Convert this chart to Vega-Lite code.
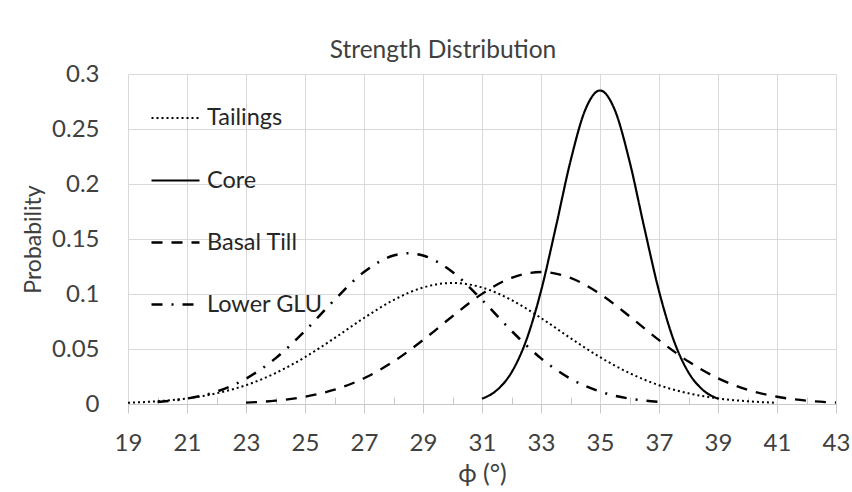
{
  "$schema": "https://vega.github.io/schema/vega-lite/v6.json",
  "width": 708,
  "height": 330,
  "autosize": {"type": "none"},
  "padding": {"left": 128, "top": 74, "right": 16, "bottom": 88},
  "background": "white",
  "title": {
    "text": "Strength Distribution",
    "font": "Lato",
    "fontSize": 24.5,
    "fontWeight": "normal",
    "color": "#404040",
    "anchor": "middle",
    "frame": "group",
    "dx": -39,
    "baseline": "alphabetic",
    "offset": -20
  },
  "config": {
    "view": {"stroke": null},
    "font": "Lato",
    "legend": {
      "orient": "none",
      "legendX": 22,
      "legendY": 19,
      "title": null,
      "symbolType": "stroke",
      "symbolSize": 2304,
      "symbolStrokeColor": "black",
      "labelFont": "Lato",
      "labelFontSize": 23.5,
      "labelColor": "#262626",
      "labelOffset": 6,
      "rowPadding": 25
    }
  },
  "data": {
    "values": [
      {"series": "Tailings", "phi": 19, "p": 0.0011},
      {"series": "Tailings", "phi": 20, "p": 0.0025},
      {"series": "Tailings", "phi": 21, "p": 0.0051},
      {"series": "Tailings", "phi": 22, "p": 0.0097},
      {"series": "Tailings", "phi": 23, "p": 0.0171},
      {"series": "Tailings", "phi": 24, "p": 0.0281},
      {"series": "Tailings", "phi": 25, "p": 0.0426},
      {"series": "Tailings", "phi": 26, "p": 0.0599},
      {"series": "Tailings", "phi": 27, "p": 0.0782},
      {"series": "Tailings", "phi": 28, "p": 0.0945},
      {"series": "Tailings", "phi": 29, "p": 0.1059},
      {"series": "Tailings", "phi": 30, "p": 0.11},
      {"series": "Tailings", "phi": 31, "p": 0.1059},
      {"series": "Tailings", "phi": 32, "p": 0.0945},
      {"series": "Tailings", "phi": 33, "p": 0.0782},
      {"series": "Tailings", "phi": 34, "p": 0.0599},
      {"series": "Tailings", "phi": 35, "p": 0.0426},
      {"series": "Tailings", "phi": 36, "p": 0.0281},
      {"series": "Tailings", "phi": 37, "p": 0.0171},
      {"series": "Tailings", "phi": 38, "p": 0.0097},
      {"series": "Tailings", "phi": 39, "p": 0.0051},
      {"series": "Tailings", "phi": 40, "p": 0.0025},
      {"series": "Tailings", "phi": 41, "p": 0.0011},
      {"series": "Core", "phi": 31, "p": 0.0048},
      {"series": "Core", "phi": 31.5, "p": 0.0125},
      {"series": "Core", "phi": 32, "p": 0.0287},
      {"series": "Core", "phi": 32.5, "p": 0.0579},
      {"series": "Core", "phi": 33, "p": 0.1027},
      {"series": "Core", "phi": 33.5, "p": 0.1605},
      {"series": "Core", "phi": 34, "p": 0.2208},
      {"series": "Core", "phi": 34.5, "p": 0.2674},
      {"series": "Core", "phi": 35, "p": 0.285},
      {"series": "Core", "phi": 35.5, "p": 0.2674},
      {"series": "Core", "phi": 36, "p": 0.2208},
      {"series": "Core", "phi": 36.5, "p": 0.1605},
      {"series": "Core", "phi": 37, "p": 0.1027},
      {"series": "Core", "phi": 37.5, "p": 0.0579},
      {"series": "Core", "phi": 38, "p": 0.0287},
      {"series": "Core", "phi": 38.5, "p": 0.0125},
      {"series": "Core", "phi": 39, "p": 0.0048},
      {"series": "Basal Till", "phi": 23, "p": 0.0013},
      {"series": "Basal Till", "phi": 24, "p": 0.003},
      {"series": "Basal Till", "phi": 25, "p": 0.0066},
      {"series": "Basal Till", "phi": 26, "p": 0.013},
      {"series": "Basal Till", "phi": 27, "p": 0.0234},
      {"series": "Basal Till", "phi": 28, "p": 0.0386},
      {"series": "Basal Till", "phi": 29, "p": 0.0581},
      {"series": "Basal Till", "phi": 30, "p": 0.0798},
      {"series": "Basal Till", "phi": 31, "p": 0.1001},
      {"series": "Basal Till", "phi": 32, "p": 0.1147},
      {"series": "Basal Till", "phi": 33, "p": 0.12},
      {"series": "Basal Till", "phi": 34, "p": 0.1147},
      {"series": "Basal Till", "phi": 35, "p": 0.1001},
      {"series": "Basal Till", "phi": 36, "p": 0.0798},
      {"series": "Basal Till", "phi": 37, "p": 0.0581},
      {"series": "Basal Till", "phi": 38, "p": 0.0386},
      {"series": "Basal Till", "phi": 39, "p": 0.0234},
      {"series": "Basal Till", "phi": 40, "p": 0.013},
      {"series": "Basal Till", "phi": 41, "p": 0.0066},
      {"series": "Basal Till", "phi": 42, "p": 0.003},
      {"series": "Basal Till", "phi": 43, "p": 0.0013},
      {"series": "Lower GLU", "phi": 20, "p": 0.0019},
      {"series": "Lower GLU", "phi": 21, "p": 0.0049},
      {"series": "Lower GLU", "phi": 22, "p": 0.0113},
      {"series": "Lower GLU", "phi": 23, "p": 0.023},
      {"series": "Lower GLU", "phi": 24, "p": 0.0415},
      {"series": "Lower GLU", "phi": 25, "p": 0.0665},
      {"series": "Lower GLU", "phi": 26, "p": 0.0947},
      {"series": "Lower GLU", "phi": 27, "p": 0.12},
      {"series": "Lower GLU", "phi": 28, "p": 0.135},
      {"series": "Lower GLU", "phi": 28.5, "p": 0.137},
      {"series": "Lower GLU", "phi": 29, "p": 0.135},
      {"series": "Lower GLU", "phi": 30, "p": 0.12},
      {"series": "Lower GLU", "phi": 31, "p": 0.0947},
      {"series": "Lower GLU", "phi": 32, "p": 0.0665},
      {"series": "Lower GLU", "phi": 33, "p": 0.0415},
      {"series": "Lower GLU", "phi": 34, "p": 0.023},
      {"series": "Lower GLU", "phi": 35, "p": 0.0113},
      {"series": "Lower GLU", "phi": 36, "p": 0.0049},
      {"series": "Lower GLU", "phi": 37, "p": 0.0019}
    ]
  },
  "resolve": {"axis": {"x": "independent"}},
  "layer": [
    {
      "mark": {"type": "line", "interpolate": "monotone", "color": "black"},
      "encoding": {
        "x": {
          "field": "phi",
          "type": "quantitative",
          "scale": {"domain": [19, 43], "nice": false, "zero": false},
          "axis": {
            "orient": "bottom",
            "title": "ϕ (°)",
            "titleFont": "Lato",
            "titleFontSize": 25,
            "titleFontWeight": "normal",
            "titleColor": "#404040",
            "titlePadding": 6,
            "values": [19, 21, 23, 25, 27, 29, 31, 33, 35, 37, 39, 41, 43],
            "labelFont": "Lato",
            "labelFontSize": 24,
            "labelColor": "#404040",
            "labelPadding": 18,
            "labelFlush": false,
            "tickSize": 9,
            "tickColor": "#c8c8c8",
            "domainColor": "#c8c8c8",
            "grid": true,
            "gridColor": "#d9d9d9"
          }
        },
        "y": {
          "field": "p",
          "type": "quantitative",
          "scale": {"domain": [0, 0.3], "nice": false},
          "axis": {
            "title": "Probability",
            "titleFont": "Lato",
            "titleFontSize": 23,
            "titleFontWeight": "normal",
            "titleColor": "#404040",
            "titlePadding": 6,
            "values": [0, 0.05, 0.1, 0.15, 0.2, 0.25, 0.3],
            "format": "~g",
            "labelFont": "Lato",
            "labelFontSize": 24,
            "labelColor": "#404040",
            "labelPadding": 29,
            "ticks": false,
            "domain": false,
            "grid": true,
            "gridColor": "#d9d9d9"
          }
        },
        "strokeDash": {
          "field": "series",
          "type": "nominal",
          "scale": {
            "domain": ["Tailings", "Core", "Basal Till", "Lower GLU"],
            "range": [[2, 3], [1, 0], [11, 9], [11, 9, 2, 9]]
          }
        },
        "strokeWidth": {
          "field": "series",
          "type": "nominal",
          "scale": {
            "domain": ["Tailings", "Core", "Basal Till", "Lower GLU"],
            "range": [2, 2.5, 2.75, 2.5]
          }
        }
      }
    },
    {
      "mark": {"type": "rule", "opacity": 0},
      "encoding": {
        "x": {
          "field": "phi",
          "type": "quantitative",
          "axis": {
            "orient": "bottom",
            "title": null,
            "values": [20, 22, 24, 26, 28, 30, 32, 34, 36, 38, 40, 42],
            "labels": false,
            "grid": false,
            "domain": false,
            "tickSize": -7,
            "tickColor": "#c8c8c8"
          }
        }
      }
    }
  ]
}
